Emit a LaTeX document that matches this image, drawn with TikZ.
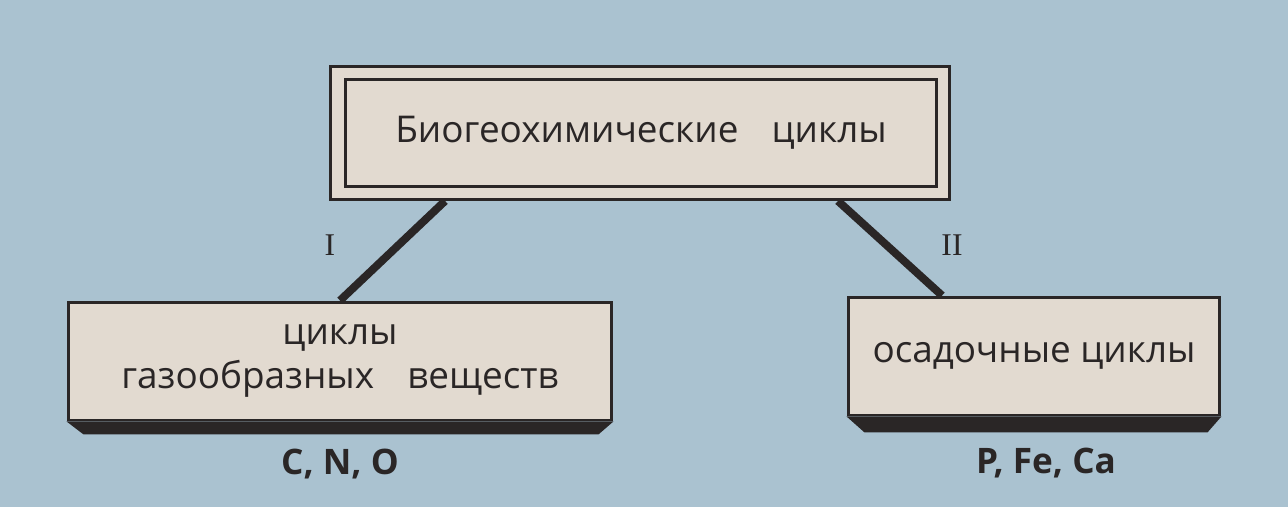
\documentclass[tikz,border=0pt]{standalone}
\usepackage{fontspec}
\setmainfont{Open Sans}
\newfontfamily\numfont{Liberation Serif}
\usetikzlibrary{positioning}
\definecolor{paperblue}{RGB}{170,194,208}
\definecolor{boxbeige}{RGB}{226,218,208}
\definecolor{inkdark}{RGB}{42,38,38}

\begin{document}
\begin{tikzpicture}[x=0.02cm, y=-0.02cm, font=\fontsize{21}{25}\selectfont, text=inkdark]
      \tikzstyle{b}=[rectangle,draw=inkdark,line width=1.7pt,fill=boxbeige,align=center,inner sep=0pt]
      \tikzstyle{shade}=[fill=inkdark]
      \tikzstyle{link}=[draw=inkdark,line width=4.5pt]
      \tikzstyle{num}=[font=\numfont\fontsize{18}{20}\selectfont]
      \tikzstyle{el}=[font=\bfseries\fontsize{20}{24}\selectfont,inner sep=0pt]

      % background
      \fill[paperblue] (0,0) rectangle (1288,507);
      \useasboundingbox (0,0) rectangle (1288,507);

      % boxes
      \node[b,minimum width=12.4cm,minimum height=2.66cm] (top) at (640,133) {};
      \node[b,fill=none,minimum width=11.84cm,minimum height=2.14cm] (title) at (641,133) {Биогеохимические\hspace{0.9em}циклы};
      \node[b,minimum width=10.88cm,minimum height=2.36cm] (gas) at (340,361) {циклы\\газообразных\hspace{0.9em}веществ};
      \node[b,minimum width=7.44cm,minimum height=2.36cm] (sed) at (1034,356) {осадочные циклы};

      % shadows under the boxes
      \fill[shade] (gas.south west) -- (gas.south east) -- ++(-15,13) -- ([shift={(17,13)}]gas.south west) -- cycle;
      \fill[shade] (sed.south west) -- (sed.south east) -- ++(-14,16) -- ([shift={(18,16)}]sed.south west) -- cycle;

      % elements
      \node[el,below=0.55cm of gas] (gasel) {C, N, O};
      \node[el,below=0.62cm of sed,xshift=0.24cm] (sedel) {P, Fe, Ca};

      % links
      \coordinate (tl) at ([xshift=-3.9cm]top.south);
      \coordinate (tr) at ([xshift=3.96cm]top.south);
      \coordinate (sl) at ([xshift=-1.84cm]sed.north);
      \draw[link] (tl) -- (gas.north);
      \draw[link] (tr) -- (sl);
      \node[num] (one) at (330,245) {I};
      \node[num] (two) at (952,245) {II};
    \end{tikzpicture}
\end{document}
